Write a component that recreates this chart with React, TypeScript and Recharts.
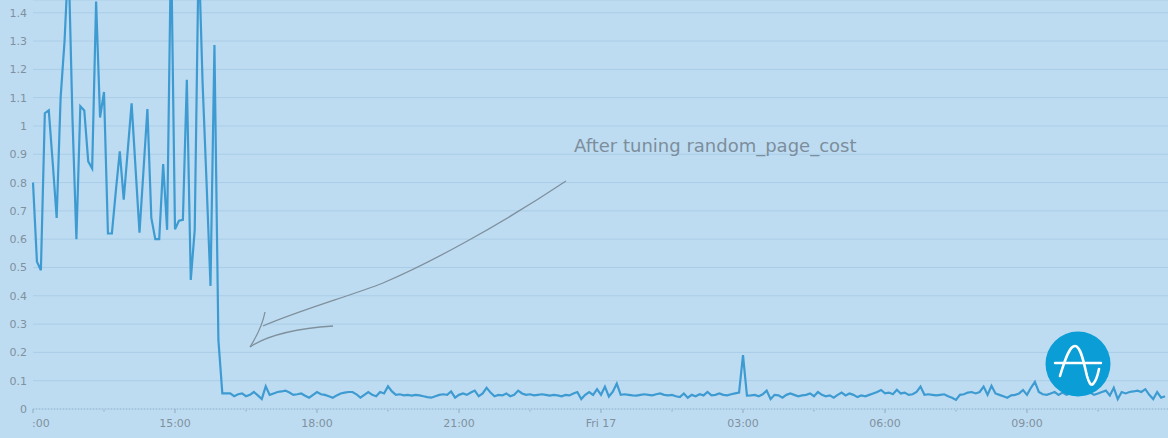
import React from "react";
import { LineChart, Line, XAxis, YAxis, CartesianGrid } from "recharts";

// query latency (seconds), one sample every 5 minutes from 12:00 Thu to 11:55 Fri
const latencyBefore: number[] = [
  0.8, 0.52, 0.49, 1.045, 1.055, 0.87, 0.675, 1.1, 1.3, 1.6, 1.03, 0.6,
  1.07, 1.055, 0.875, 0.85, 1.44, 1.03, 1.12, 0.62, 0.62, 0.77, 0.91, 0.74,
  0.91, 1.08, 0.85, 0.623, 0.84, 1.06, 0.675, 0.6, 0.6, 0.865, 0.633, 1.65,
  0.635, 0.665, 0.668, 1.163, 0.456, 0.633, 1.62, 1.15, 0.8, 0.435, 1.286, 0.244,
];
const latencyAfter: number[] = [
  0.055, 0.055, 0.055, 0.045, 0.052, 0.055, 0.045, 0.05, 0.06, 0.048, 0.035, 0.08,
  0.05, 0.055, 0.06, 0.062, 0.065, 0.058, 0.05, 0.052, 0.055, 0.047, 0.04, 0.05,
  0.06, 0.052, 0.05, 0.045, 0.04, 0.048, 0.055, 0.058, 0.06, 0.06, 0.052, 0.04,
  0.05, 0.06, 0.05, 0.045, 0.06, 0.055, 0.08, 0.062, 0.05, 0.052, 0.048, 0.05,
  0.047, 0.05, 0.048, 0.045, 0.042, 0.04, 0.045, 0.05, 0.052, 0.05, 0.062, 0.04,
  0.05, 0.055, 0.05, 0.058, 0.065, 0.045, 0.055, 0.075, 0.058, 0.045, 0.05, 0.048,
  0.055, 0.045, 0.05, 0.065, 0.055, 0.05, 0.052, 0.048, 0.05, 0.052, 0.05, 0.047,
  0.05, 0.048, 0.045, 0.05, 0.048, 0.055, 0.06, 0.035, 0.05, 0.06, 0.05, 0.07,
  0.05, 0.079, 0.044, 0.061, 0.09, 0.05, 0.052, 0.05, 0.048, 0.047, 0.05, 0.052,
  0.05, 0.048, 0.052, 0.055, 0.05, 0.048, 0.05, 0.045, 0.042, 0.055, 0.04, 0.05,
  0.045, 0.052, 0.048, 0.06, 0.048, 0.05, 0.055, 0.05, 0.048, 0.052, 0.055, 0.058,
  0.19, 0.047, 0.048, 0.05, 0.045, 0.052, 0.065, 0.035, 0.05, 0.048, 0.04, 0.05,
  0.055, 0.05, 0.045, 0.048, 0.05, 0.055, 0.045, 0.06, 0.05, 0.045, 0.048, 0.04,
  0.05, 0.058, 0.048, 0.055, 0.05, 0.042, 0.048, 0.045, 0.05, 0.055, 0.06, 0.067,
  0.055, 0.058, 0.052, 0.068, 0.055, 0.058, 0.05, 0.052, 0.06, 0.079, 0.05, 0.052,
  0.05, 0.048, 0.05, 0.052, 0.045, 0.04, 0.032, 0.05, 0.052, 0.058, 0.06, 0.055,
  0.06, 0.079, 0.05, 0.082, 0.055, 0.05, 0.045, 0.04, 0.048, 0.05, 0.055, 0.067,
  0.05, 0.075, 0.096, 0.06, 0.052, 0.05, 0.055, 0.06, 0.05, 0.058, 0.05, 0.055,
  0.05, 0.055, 0.06, 0.052, 0.058, 0.05, 0.055, 0.06, 0.065, 0.048, 0.075, 0.035,
  0.06, 0.055, 0.06, 0.062, 0.065, 0.06, 0.07, 0.05, 0.035, 0.06, 0.04, 0.045,
];
const sampleMinutes = 5;

const xTickMinutes: number[] = [0, 180, 360, 540, 720, 900, 1080, 1260];
const xTickLabels: string[] = [":00", "15:00", "18:00", "21:00", "Fri 17", "03:00", "06:00", "09:00"];
const xMinorMinutes: number[] = [90, 270, 450, 630, 810, 990, 1170, 1350];

const yTicks: number[] = [0, 0.1, 0.2, 0.3, 0.4, 0.5, 0.6, 0.7, 0.8, 0.9, 1, 1.1, 1.2, 1.3, 1.4];
const yTickLabels: string[] = ["0", "0.1", "0.2", "0.3", "0.4", "0.5", "0.6", "0.7", "0.8", "0.9", "1", "1.1", "1.2", "1.3", "1.4"];

const annotationText = "After tuning random_page_cost";

const allValues = [...latencyBefore, ...latencyAfter];
const data = allValues.map((v, i) => ({ t: i * sampleMinutes, latency: v }));

const BG = "#bedcf1";
const LINE = "#3d9bd2";
const LABEL = "#7f919f";
const GRID = "#a9cde8";
const FONT = "'DejaVu Sans', Verdana, sans-serif";

const XTick = (props: any) => {
  const { x, payload } = props;
  const t = payload.value as number;
  const idx = xTickMinutes.indexOf(t);
  if (idx < 0) {
    return <rect x={x - 0.5} y={410} width={1} height={1.5} fill="#90a9bc" />;
  }
  const first = idx === 0;
  return (
    <g>
      <line x1={x} x2={x} y1={409} y2={413} stroke="#90a9bc" strokeWidth={1} />
      <text
        x={first ? x - 1 : x}
        y={427}
        textAnchor={first ? "start" : "middle"}
        fontSize={11}
        fontFamily={FONT}
        fill={LABEL}
      >
        {xTickLabels[idx]}
      </text>
    </g>
  );
};

const YTick = (props: any) => {
  const { y, payload } = props;
  const idx = yTicks.indexOf(payload.value);
  return (
    <text x={27} y={y + 4} textAnchor="end" fontSize={11} fontFamily={FONT} fill={LABEL}>
      {idx >= 0 ? yTickLabels[idx] : ""}
    </text>
  );
};

export default function App() {
  return (
    <div
      style={{
        position: "absolute",
        left: 0,
        top: 0,
        width: 1168,
        height: 438,
        overflow: "hidden",
        background: BG,
      }}
    >
      <LineChart
        width={1170}
        height={438}
        data={data}
        margin={{ top: 0, right: 1, left: 0, bottom: 0 }}
      >
        <CartesianGrid vertical={false} stroke={GRID} strokeWidth={1} />
        <XAxis
          dataKey="t"
          type="number"
          domain={[0, 1440]}
          ticks={[...xTickMinutes, ...xMinorMinutes].sort((a, b) => a - b)}
          interval={0}
          height={29}
          axisLine={{ stroke: "#9ab4c8", strokeDasharray: "1 2" }}
          tickLine={false}
          tick={<XTick />}
        />
        <YAxis
          type="number"
          domain={[0, 1.445]}
          allowDataOverflow
          ticks={yTicks}
          interval={0}
          width={33}
          axisLine={false}
          tickLine={false}
          tick={<YTick />}
        />
        <Line
          type="linear"
          dataKey="latency"
          stroke={LINE}
          strokeWidth={2.2}
          dot={false}
          isAnimationActive={false}
        />
      </LineChart>
      <svg
        width={1168}
        height={438}
        style={{ position: "absolute", left: 0, top: 0, pointerEvents: "none" }}
      >
        <text x={574} y={152} fontSize={18} fontFamily={FONT} fill="#7c8e9c">
          {annotationText}
        </text>
        <path
          d="M566,181 C500,225 430,263 383,283 C350,296 300,310 263,326"
          fill="none"
          stroke="#7f909d"
          strokeWidth={1.3}
        />
        <path d="M265,312 Q262,328 250,347" fill="none" stroke="#7f909d" strokeWidth={1.3} />
        <path d="M250,347 Q275,330 333,326" fill="none" stroke="#7f909d" strokeWidth={1.3} />
        <circle cx={1078} cy={364} r={32.5} fill="#0a9dd6" />
        <path
          d="M1060,376 C1066,356 1070,346 1075,346 C1081,346 1084,364 1087,376 C1089,383 1091,386 1093,384 C1096,381 1098,374 1099,369"
          fill="none"
          stroke="#ffffff"
          strokeWidth={2.6}
          strokeLinecap="round"
        />
        <line x1={1055} x2={1101} y1={363} y2={363} stroke="#ffffff" strokeWidth={2.4} strokeLinecap="round" />
      </svg>
    </div>
  );
}
